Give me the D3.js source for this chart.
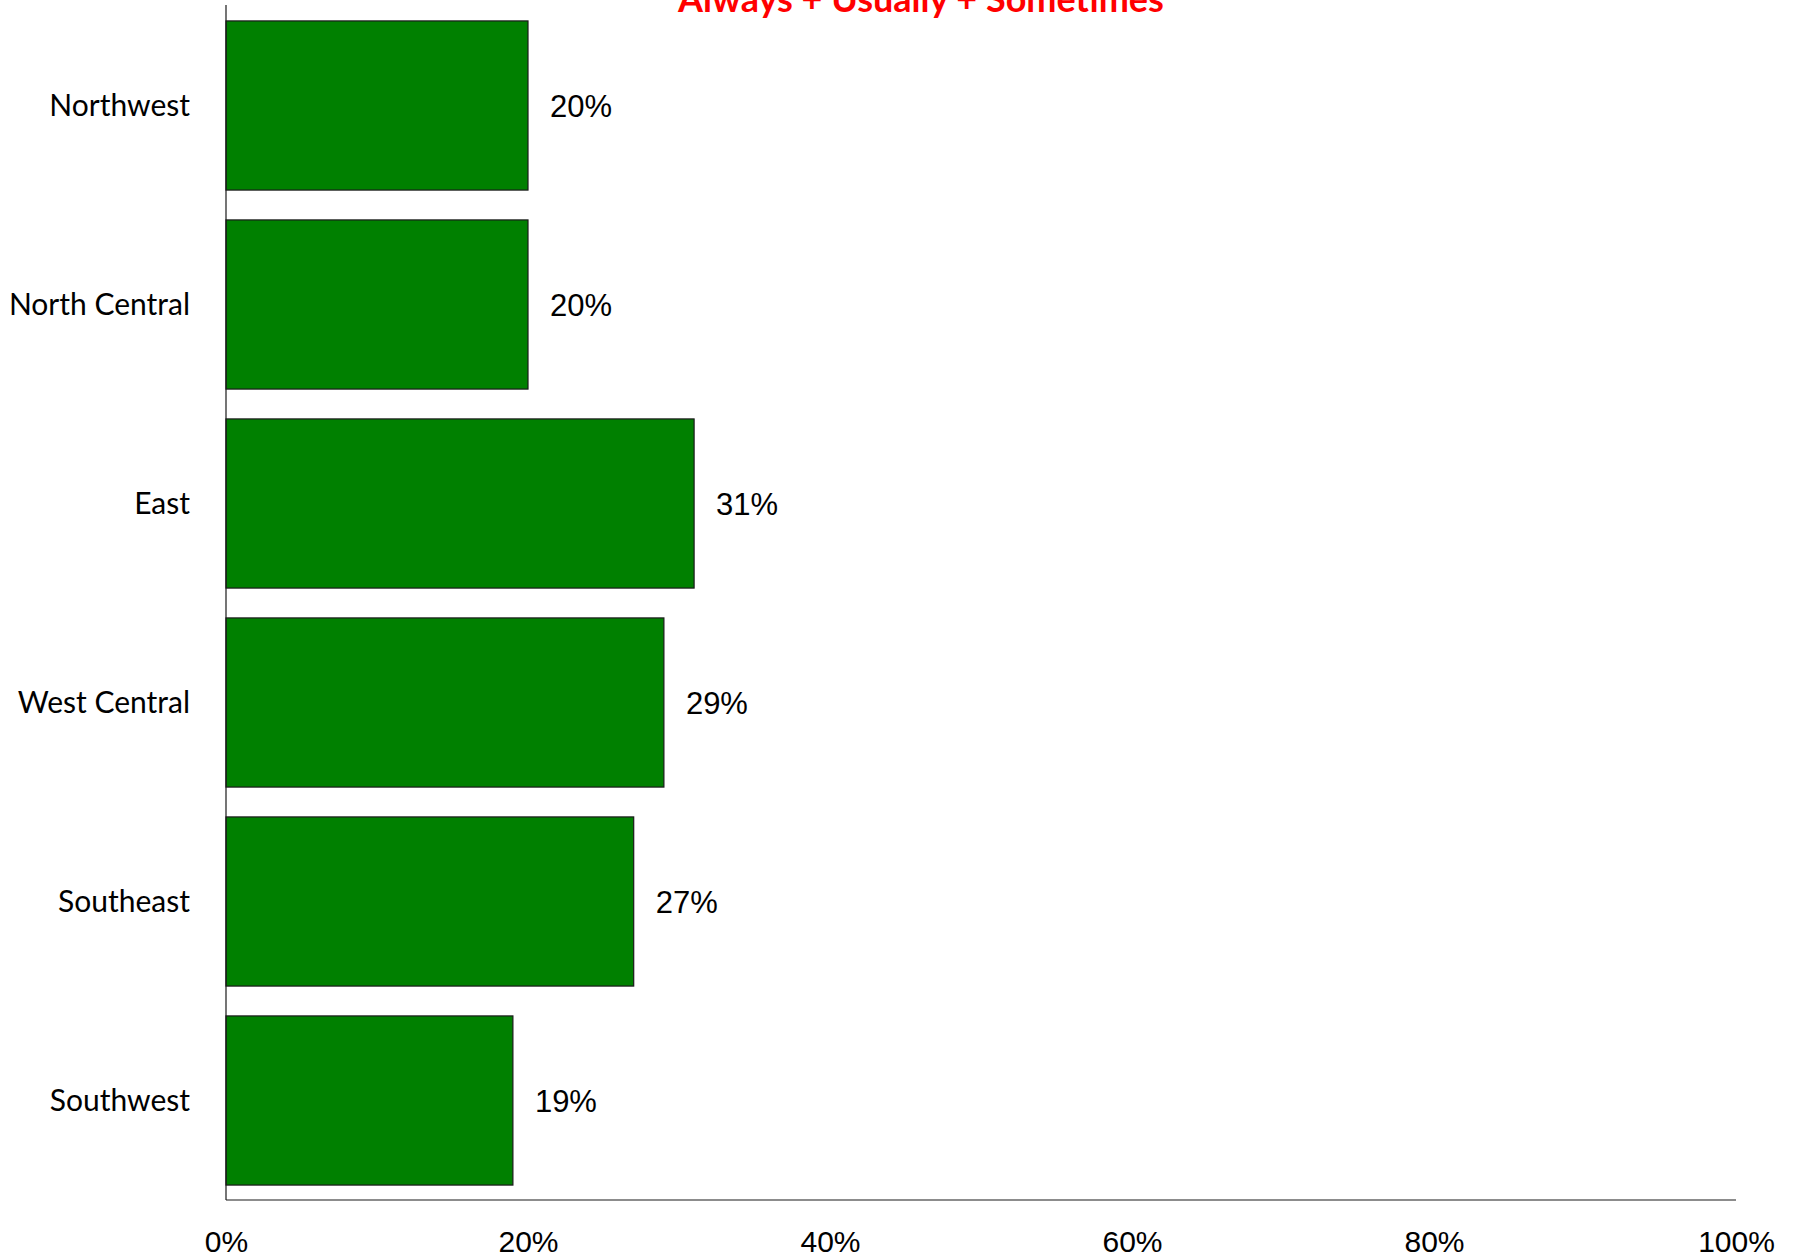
<!DOCTYPE html>
<html>
<head>
<meta charset="utf-8">
<script src="https://cdn.jsdelivr.net/npm/d3@7"></script>
<style>
  html, body { margin: 0; padding: 0; background: #fff; }
  svg { display: block; }
</style>
</head>
<body>
<script>
const categories = ["Northwest", "North Central", "East", "West Central", "Southeast", "Southwest"];
const values = [20, 20, 31, 29, 27, 19];
const tickValues = [0, 20, 40, 60, 80, 100];
const titleText = "Always + Usually + Sometimes";

const W = 1797, H = 1258;
const margin = { left: 226, right: 61, top: 6, bottom: 58 };

const svg = d3.select("body").append("svg").attr("width", W).attr("height", H);

const x = d3.scaleLinear().domain([0, 100]).range([margin.left, W - margin.right]);
const y = d3.scaleBand().domain(categories).range([margin.top, H - margin.bottom])
  .paddingInner(0.15).paddingOuter(0.075);

// bars
svg.selectAll("rect.bar").data(categories).enter().append("rect")
  .attr("class", "bar")
  .attr("x", x(0))
  .attr("y", d => y(d))
  .attr("width", (d, i) => x(values[i]) - x(0))
  .attr("height", y.bandwidth())
  .attr("fill", "#008000")
  .attr("stroke", "#1a1a1a")
  .attr("stroke-width", 1.2);

// value labels
svg.selectAll("text.val").data(categories).enter().append("text")
  .attr("class", "val")
  .attr("x", (d, i) => x(values[i]) + 22)
  .attr("y", d => y(d) + y.bandwidth() / 2 + 11)
  .attr("font-family", "'Liberation Sans', Arial, sans-serif")
  .attr("font-size", 31)
  .attr("fill", "#000")
  .text((d, i) => values[i] + "%");

// y axis
const yAxis = d3.axisLeft(y).tickSize(0).tickPadding(36);
const gy = svg.append("g").attr("transform", `translate(${x(0)},0)`).call(yAxis);
gy.select(".domain").remove();
gy.selectAll("text")
  .attr("font-family", "Lato, 'Open Sans', sans-serif")
  .attr("font-size", 30)
  .attr("fill", "#000")
  .attr("dy", "0.36em");
svg.append("line")
  .attr("x1", x(0)).attr("x2", x(0))
  .attr("y1", margin.top - 1).attr("y2", H - margin.bottom)
  .attr("stroke", "#1a1a1a").attr("stroke-width", 1.2);

// x axis
const xAxis = d3.axisBottom(x).tickValues(tickValues).tickSize(0).tickPadding(0)
  .tickFormat(d => d + "%");
const gx = svg.append("g").attr("transform", `translate(0,${H - margin.bottom})`).call(xAxis);
gx.select(".domain").remove();
gx.selectAll("text")
  .attr("font-family", "'Liberation Sans', Arial, sans-serif")
  .attr("font-size", 30)
  .attr("fill", "#000")
  .attr("y", 52)
  .attr("dy", 0);
svg.append("line")
  .attr("x1", x(0)).attr("x2", x(100))
  .attr("y1", H - margin.bottom).attr("y2", H - margin.bottom)
  .attr("stroke", "#1a1a1a").attr("stroke-width", 1.2);

// title (clipped at top, as in the reference)
svg.append("text")
  .attr("x", 921)
  .attr("y", 12)
  .attr("text-anchor", "middle")
  .attr("font-family", "Lato, 'Open Sans', sans-serif")
  .attr("font-weight", "bold")
  .attr("font-size", 36)
  .attr("fill", "#ff0000")
  .text(titleText);
</script>
</body>
</html>
